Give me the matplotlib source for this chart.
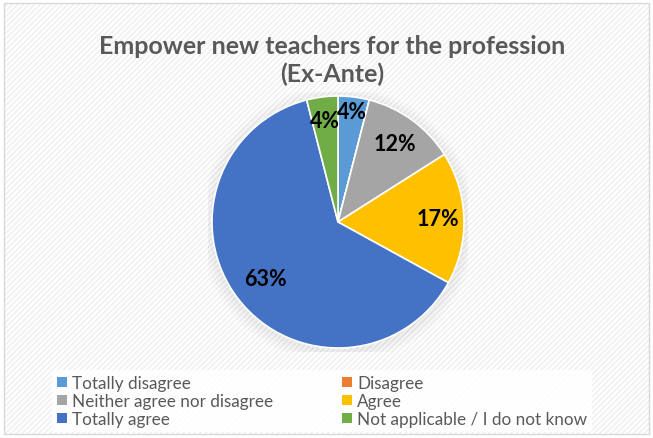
import matplotlib
matplotlib.use("Agg")
import matplotlib.pyplot as plt
from matplotlib.patches import Rectangle, Patch, Circle
import numpy as np

plt.rcParams['font.family'] = ['Lato', 'DejaVu Sans']
plt.rcParams['hatch.color'] = "#eeeeee"

categories = ["Totally disagree", "Disagree", "Neither agree nor disagree",
              "Agree", "Totally agree", "Not applicable / I do not know"]
values = [4, 0, 12, 17, 63, 4]
colors = ["#5B9BD5", "#ED7D31", "#A5A5A5", "#FFC000", "#4472C4", "#70AD47"]
title = "Empower new teachers for the profession\n(Ex-Ante)"

fig = plt.figure(figsize=(6.53, 4.39), dpi=100)

# hatched background + frame
bg = Rectangle((0.006, 0.008), 0.988, 0.984, transform=fig.transFigure,
               facecolor="white", edgecolor="#eeeeee", hatch="//////",
               linewidth=0, zorder=-2)
fig.patches.append(bg)
frame = Rectangle((0.006, 0.008), 0.988, 0.984, transform=fig.transFigure,
                  facecolor="none", edgecolor="#d9d9d9", linewidth=1.0, zorder=-1)
fig.patches.append(frame)

fig.text(0.508, 0.862, title, ha="center", va="center", fontsize=18,
         fontweight="bold", color="#595959", linespacing=1.2)

# pie axes: center (338,223), radius ~126 px
ax = fig.add_axes([(338 - 130) / 653, 1 - (223 + 130) / 439, 260 / 653, 260 / 439])
ax.set_zorder(5)

# soft shadow
for i in range(4):
    ax.add_patch(Circle((0, -0.02), 1.0 + 0.025 * (i + 1), color="#808080",
                        alpha=0.03, zorder=0, linewidth=0))

wedges, _ = ax.pie(values, colors=colors, startangle=90, counterclock=False,
                   radius=1.0, wedgeprops=dict(edgecolor="white", linewidth=1.2))
ax.set_xlim(-130 / 126, 130 / 126)
ax.set_ylim(-130 / 126, 130 / 126)
ax.set_aspect("equal")
ax.axis("off")

label_dist = [0.88, 0, 0.77, 0.79, 0.73, 0.81]
ang = 90.0
for v, d in zip(values, label_dist):
    mid = ang - v / 100 * 360 / 2
    ang -= v / 100 * 360
    if v == 0:
        continue
    t = np.deg2rad(mid)
    ax.text(d * np.cos(t), d * np.sin(t), f"{v}%", ha="center", va="center",
            fontsize=15.5, fontweight="bold", color="black")

# legend filled row by row like Excel
order = [0, 2, 4, 1, 3, 5]
handles = [Patch(facecolor=colors[i], edgecolor="none") for i in order]
labels = [categories[i] for i in order]
leg = fig.legend(handles, labels, ncol=2, loc="center",
                 bbox_to_anchor=(322 / 653, 1 - 402 / 439), frameon=True,
                 fontsize=12.3, handlelength=0.6, handleheight=0.6,
                 handletextpad=0.3, columnspacing=4.0, labelspacing=0.12,
                 borderpad=0.3)
leg.set_zorder(6)
leg.get_frame().set_edgecolor("none")
leg.get_frame().set_facecolor("white")
leg.get_frame().set_alpha(0.85)
for t in leg.get_texts():
    t.set_color("#595959")

fig.savefig("out.png", dpi=100)
